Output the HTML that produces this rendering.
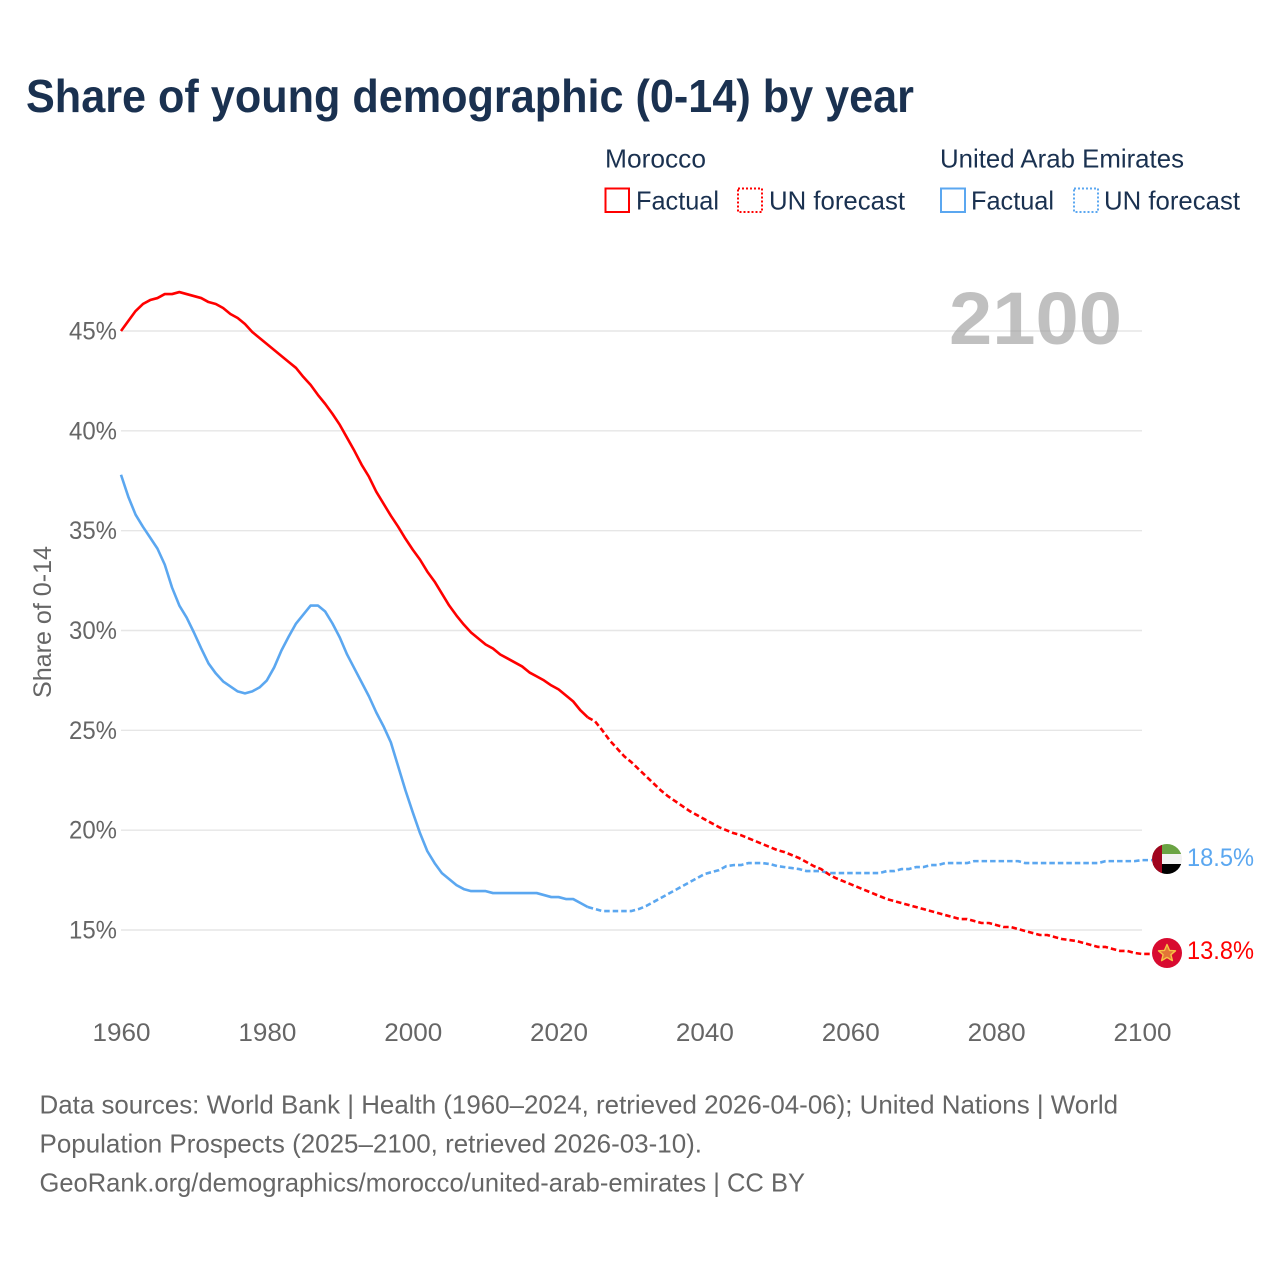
<!DOCTYPE html>
<html lang="en">
<head>
<meta charset="utf-8">
<title>Share of young demographic (0-14) by year</title>
<style>
html,body{margin:0;padding:0;background:#fff;width:1280px;height:1280px;overflow:hidden}
svg{display:block;font-family:"Liberation Sans",sans-serif}
</style>
</head>
<body>
<svg id="chart" width="1280" height="1280" viewBox="0 0 1280 1280" xmlns="http://www.w3.org/2000/svg">
  <defs>
    <clipPath id="flag-clip-uae"><circle cx="1167" cy="859" r="15"/></clipPath>
  </defs>
  <rect x="0" y="0" width="1280" height="1280" fill="#ffffff"/>
  <text x="26" y="112" font-size="46" font-weight="700" fill="#1a3150" textLength="888" lengthAdjust="spacingAndGlyphs">Share of young demographic (0-14) by year</text>

  <g font-size="26" fill="#1a3150">
    <text x="605" y="167.5" textLength="101" lengthAdjust="spacingAndGlyphs">Morocco</text>
    <text x="940" y="167.5" textLength="244" lengthAdjust="spacingAndGlyphs">United Arab Emirates</text>
    <rect x="605.5" y="188.5" width="23.5" height="23.5" fill="none" stroke="#ff0000" stroke-width="2"/>
    <text x="636" y="209.5" textLength="83" lengthAdjust="spacingAndGlyphs">Factual</text>
    <rect x="738" y="188.5" width="24" height="23.5" fill="none" stroke="#ff0000" stroke-width="2" stroke-dasharray="2 2"/>
    <text x="769" y="209.5" textLength="136" lengthAdjust="spacingAndGlyphs">UN forecast</text>
    <rect x="941" y="188.5" width="24" height="23.5" fill="none" stroke="#5ba7f0" stroke-width="2"/>
    <text x="971" y="209.5" textLength="83" lengthAdjust="spacingAndGlyphs">Factual</text>
    <rect x="1074" y="188.5" width="24" height="23.5" fill="none" stroke="#5ba7f0" stroke-width="2" stroke-dasharray="2 2"/>
    <text x="1104" y="209.5" textLength="136" lengthAdjust="spacingAndGlyphs">UN forecast</text>
  </g>

  <g id="grid"></g>
  <g id="y-ticks"></g>
  <g id="x-ticks"></g>
  <text transform="translate(51,622) rotate(-90)" text-anchor="middle" font-size="25" fill="#666666" textLength="152" lengthAdjust="spacingAndGlyphs">Share of 0-14</text>

  <text x="949" y="344" font-size="74" font-weight="700" fill="#999999" fill-opacity="0.62" textLength="173" lengthAdjust="spacingAndGlyphs">2100</text>

  <g id="series"></g>

  <g clip-path="url(#flag-clip-uae)">
    <rect x="1152" y="844" width="30" height="10" fill="#6aa343"/>
    <rect x="1152" y="854" width="30" height="10" fill="#f2f2f2"/>
    <rect x="1152" y="864" width="30" height="10" fill="#000000"/>
    <rect x="1152" y="844" width="10" height="30" fill="#a0051f"/>
  </g>
  <g>
    <circle cx="1167" cy="953" r="15" fill="#d80b30"/>
    <polygon points="1167,944.5 1169.5,950.4 1175.5,950.8 1170.9,954.7 1172.4,960.6 1167,957.4 1161.6,960.6 1163.1,954.7 1158.5,950.8 1164.5,950.4" fill="#e8a33a" fill-opacity="0.7" stroke="#f6c244" stroke-width="1.4" stroke-linejoin="round"/>
  </g>
  <text id="label-uae" x="1187" y="866" font-size="25" fill="#5ba7f0" textLength="67" lengthAdjust="spacingAndGlyphs"></text>
  <text id="label-morocco" x="1187" y="959" font-size="25" fill="#ff0000" textLength="67" lengthAdjust="spacingAndGlyphs"></text>

  <g font-size="26" fill="#666666">
    <text x="39.5" y="1113.5" textLength="1078.5" lengthAdjust="spacingAndGlyphs">Data sources: World Bank | Health (1960–2024, retrieved 2026-04-06); United Nations | World</text>
    <text x="39.5" y="1152.5" textLength="662.5" lengthAdjust="spacingAndGlyphs">Population Prospects (2025–2100, retrieved 2026-03-10).</text>
    <text x="39.5" y="1191.5" textLength="765.5" lengthAdjust="spacingAndGlyphs">GeoRank.org/demographics/morocco/united-arab-emirates | CC BY</text>
  </g>
</svg>
<script>
const factualStartYear = 1960;
const forecastStartYear = 2025;
const yTicks = [15, 20, 25, 30, 35, 40, 45];
const xTicks = [1960, 1980, 2000, 2020, 2040, 2060, 2080, 2100];
const moroccoFactual = [
  45.0,45.5,46.0,46.35,46.55,46.65,46.85,46.85,46.95,46.85,
  46.75,46.65,46.45,46.35,46.15,45.85,45.65,45.35,44.95,44.65,
  44.35,44.05,43.75,43.45,43.15,42.7,42.3,41.8,41.35,40.85,
  40.3,39.65,39.0,38.3,37.7,36.95,36.35,35.75,35.2,34.6,
  34.05,33.55,32.95,32.45,31.85,31.25,30.75,30.3,29.9,29.6,
  29.3,29.1,28.8,28.6,28.4,28.2,27.9,27.7,27.5,27.25,
  27.05,26.75,26.45,26.0,25.65
];
const moroccoForecast = [
  25.45,25.0,24.5,24.1,23.7,
  23.4,23.05,22.7,22.35,22.0,21.7,21.45,21.2,20.95,20.75,
  20.55,20.35,20.15,20.0,19.85,19.75,19.6,19.45,19.3,19.15,
  19.0,18.9,18.75,18.6,18.4,18.2,18.05,17.8,17.6,17.45,
  17.3,17.15,17.0,16.85,16.7,16.55,16.45,16.35,16.25,16.15,
  16.05,15.95,15.85,15.75,15.65,15.55,15.55,15.45,15.35,15.35,
  15.25,15.15,15.15,15.05,14.95,14.85,14.75,14.75,14.65,14.55,
  14.5,14.45,14.35,14.25,14.15,14.15,14.05,13.95,13.95,13.85,
  13.8
];
const uaeFactual = [
  37.8,36.7,35.8,35.2,34.65,34.1,33.3,32.15,31.25,30.65,
  29.9,29.1,28.35,27.85,27.45,27.2,26.95,26.85,26.95,27.15,
  27.5,28.15,29.0,29.7,30.35,30.8,31.25,31.25,30.95,30.35,
  29.65,28.8,28.1,27.4,26.7,25.9,25.2,24.4,23.2,22.0,
  20.9,19.85,18.95,18.35,17.85,17.55,17.25,17.05,16.95,16.95,
  16.95,16.85,16.85,16.85,16.85,16.85,16.85,16.85,16.75,16.65,
  16.65,16.55,16.55,16.35,16.15
];
const uaeForecast = [
  16.05,15.95,15.95,15.95,15.95,
  15.95,16.05,16.2,16.4,16.6,16.8,17.0,17.2,17.4,17.6,
  17.8,17.9,18.0,18.2,18.25,18.25,18.35,18.35,18.35,18.3,
  18.2,18.15,18.1,18.05,17.95,17.95,17.95,17.85,17.85,17.85,
  17.85,17.85,17.85,17.85,17.85,17.95,17.95,18.05,18.05,18.15,
  18.15,18.25,18.25,18.35,18.35,18.35,18.35,18.45,18.45,18.45,
  18.45,18.45,18.45,18.45,18.35,18.35,18.35,18.35,18.35,18.35,
  18.35,18.35,18.35,18.35,18.35,18.45,18.45,18.45,18.45,18.45,
  18.5
];

const SVGNS = 'http://www.w3.org/2000/svg';
function xScale(year) { return 121 + (year - 1960) * (1142 - 121) / 140; }
function yScale(v) { return 930 - (v - 15) * (930 - 331) / 30; }
function make(tag, attrs, parent) {
  const el = document.createElementNS(SVGNS, tag);
  for (const k in attrs) el.setAttribute(k, attrs[k]);
  parent.appendChild(el);
  return el;
}

const grid = document.getElementById('grid');
const yG = document.getElementById('y-ticks');
const xG = document.getElementById('x-ticks');
yTicks.forEach(function (t) {
  const line = make('line', {x1: 121, x2: 1142, y1: yScale(t), y2: yScale(t), stroke: '#e6e6e6', 'stroke-width': 1.4}, grid);
  
  
  const label = make('text', {x: 117, y: yScale(t) + 8.5, 'text-anchor': 'end', 'font-size': 25, fill: '#666666', textLength: 48, lengthAdjust: 'spacingAndGlyphs'}, yG);
  label.textContent = t + '%';
  
  
});
xTicks.forEach(function (t) {
  const label = make('text', {x: xScale(t) + 0.5, y: 1041, 'text-anchor': 'middle', 'font-size': 25, fill: '#666666', textLength: 58, lengthAdjust: 'spacingAndGlyphs'}, xG);
  label.textContent = String(t);
  
  
});

function pointsFor(values, startYear) {
  return values.map(function (v, i) { return xScale(startYear + i).toFixed(2) + ',' + yScale(v).toFixed(2); });
}
const seriesG = document.getElementById('series');
function drawSeries(factual, forecast, color, key, flagX) {
  const solid = make('polyline', {points: pointsFor(factual, factualStartYear).join(' '), fill: 'none', stroke: color, 'stroke-width': 2.6, 'stroke-linejoin': 'round'}, seriesG);
  
  
  const bridge = pointsFor([factual[factual.length - 1]], forecastStartYear - 1);
  const dashedPts = bridge.concat(pointsFor(forecast, forecastStartYear));
  dashedPts.push(flagX + ',' + yScale(forecast[forecast.length - 1]).toFixed(2));
  const dashed = make('polyline', {points: dashedPts.join(' '), fill: 'none', stroke: color, 'stroke-width': 2.6, 'stroke-dasharray': '5.5 3', 'stroke-linejoin': 'round'}, seriesG);
  
  
}
drawSeries(uaeFactual, uaeForecast, '#5ba7f0', 'uae', 1152);
drawSeries(moroccoFactual, moroccoForecast, '#ff0000', 'morocco', 1152);

document.getElementById('label-uae').textContent = uaeForecast[uaeForecast.length - 1].toFixed(1) + '%';
document.getElementById('label-morocco').textContent = moroccoForecast[moroccoForecast.length - 1].toFixed(1) + '%';
</script>
</body>
</html>
